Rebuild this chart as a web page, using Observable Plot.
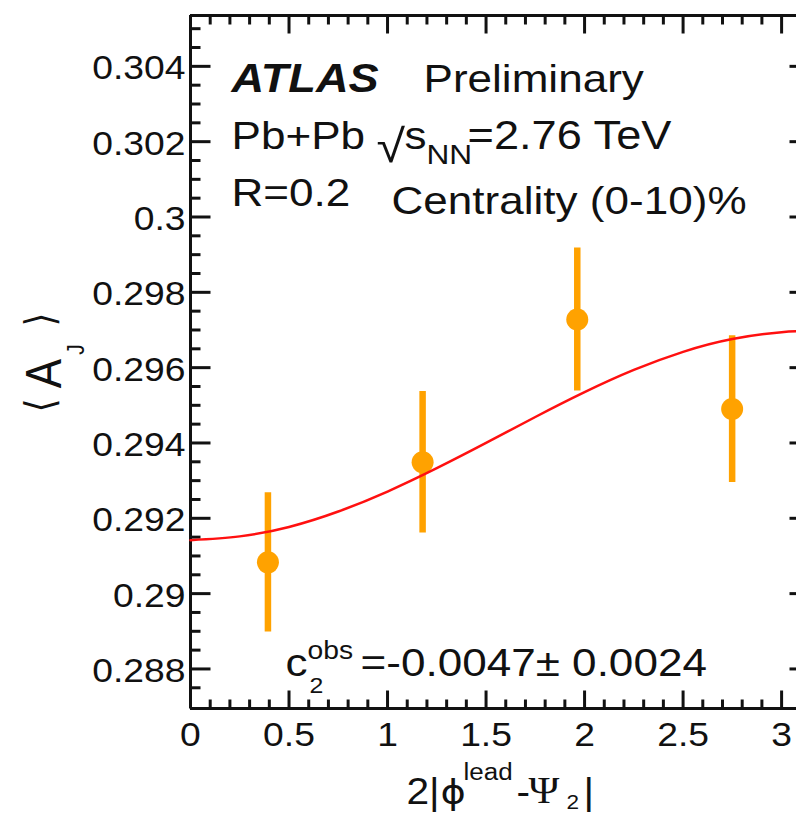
<!DOCTYPE html>
<html><head><meta charset="utf-8">
<script src="https://cdn.jsdelivr.net/npm/d3@7"></script>
<script src="https://cdn.jsdelivr.net/npm/@observablehq/plot@0.6"></script>
<style>
html,body{margin:0;padding:0;background:#fff;overflow:hidden;}
#chart svg{display:block;}
</style></head><body><div id="chart"></div>
<script>
// ---- data ----
const xCenters = [0.393, 1.178, 1.963, 2.749];
const meanAJ   = [0.29083, 0.29349, 0.29728, 0.29490];
const errAJ    = [0.00185, 0.00188, 0.00190, 0.00195];

// fit curve
const fitX = [0, 0.25, 0.5, 0.75, 1, 1.25, 1.5, 1.75, 2, 2.25, 2.5, 2.75, 3, 3.1416];
const fitY = [0.29142, 0.29152, 0.29177, 0.29218, 0.29271, 0.29333, 0.29400, 0.29469, 0.29535, 0.29594, 0.29642, 0.29676, 0.29694, 0.29697];

const xTickValues = [0, 0.5, 1, 1.5, 2, 2.5, 3];
const xTickLabels = ["0", "0.5", "1", "1.5", "2", "2.5", "3"];
const yTickValues = [0.288, 0.290, 0.292, 0.294, 0.296, 0.298, 0.300, 0.302, 0.304];
const yTickLabels = ["0.288", "0.29", "0.292", "0.294", "0.296", "0.298", "0.3", "0.302", "0.304"];

const xDomain = [0, 3.1416];
const yDomain = [0.28695, 0.30535];

const xMinor = d3.range(1, 32).filter(i => i % 5 !== 0).map(i => i / 10);
const yMinor = d3.range(575, 611).filter(k => k % 4 !== 0).map(k => k * 0.0005);

const points = xCenters.map((x, i) => ({x, y: meanAJ[i], lo: meanAJ[i] - errAJ[i], hi: meanAJ[i] + errAJ[i]}));
const fit = fitX.map((x, i) => ({x, y: fitY[i]}));

const ORANGE = "#ffa200", RED = "#ff1010", INK = "#111";
const OX = 190, OY = 15; // frame origin (pixels)
const STRETCH = 1.13;

// text pieces: [text, left x, baseline y, size, extra options]
const pieces = [
  ["ATLAS", 231, 91.5, 40, {fontWeight: "bold", fontStyle: "italic"}],
  ["Preliminary", 423, 91.5, 39, {}],
  ["Pb+Pb", 231, 148, 39, {}],
  ["\u221A", 376, 161, 46, {}],
  ["s", 404, 148, 39, {}],
  ["NN", 426, 163, 28, {}],
  ["=2.76 TeV", 467, 148, 40, {}],
  ["R=0.2", 231, 205, 39, {}],
  ["Centrality (0-10)%", 391, 213, 39, {}],
  ["c", 285, 675, 39, {}],
  ["obs", 307, 658, 25, {}],
  ["2", 309, 692, 22, {}],
  ["=-0.0047\u00B1 0.0024", 360, 675, 39, {}],
  ["2|", 406, 803, 36, {}],
  ["\u03D5", 440, 803, 34, {fontFamily: "DejaVu Sans"}],
  ["lead", 463, 779, 23, {}],
  ["-", 516, 803, 36, {}],
  ["\u03A8", 528, 802, 37, {fontFamily: "Liberation Serif"}],
  ["2", 566, 808, 20, {}],
  ["|", 583, 803, 36, {}]
];
// rotated y title pieces: [text, center x, center y, size, options]
const yTitle = [
  ["\u27E8", 40, 405, 36, {fontFamily: "DejaVu Sans"}],
  ["A", 45, 373, 44, {}],
  ["J", 76, 349, 21, {}],
  ["\u27E9", 40, 319, 36, {fontFamily: "DejaVu Sans"}]
];

const textMarks = pieces.map(([t, x, y, s, o]) => Plot.text([t], {
  frameAnchor: "top-left", dx: x - OX, dy: y - OY, textAnchor: "start", lineAnchor: "bottom",
  fontSize: s, fill: INK, ...o
}));
const titleMarks = yTitle.map(([t, x, y, s, o]) => Plot.text([t], {
  frameAnchor: "top-left", dx: x - OX, dy: y - OY, textAnchor: "middle", lineAnchor: "middle",
  rotate: -90, fontSize: s, fill: INK, ...o
}));

// plain line tick shape for vectors
const tickShape = {draw(context, l) { context.moveTo(0, 0); context.lineTo(0, -l); }};
const tick = (data, channel, frameAnchor, rotate, length) => Plot.vector(data, {
  [channel]: d => d, frameAnchor, rotate, length, anchor: "start", shape: tickShape,
  stroke: INK, strokeWidth: 3, strokeLinecap: "butt"
});

const chart = Plot.plot({
  width: 796, height: 813,
  marginLeft: 190, marginRight: -13, marginTop: 15, marginBottom: 105,
  style: {fontFamily: "Liberation Sans, Arial, sans-serif", color: INK, background: "#fff"},
  x: {domain: xDomain, axis: null},
  y: {domain: yDomain, axis: null},
  marks: [
    // inward ticks
    tick(xTickValues, "x", "bottom", 0, 18),
    tick(xMinor, "x", "bottom", 0, 9),
    tick(xTickValues, "x", "top", 180, 18),
    tick(xMinor, "x", "top", 180, 9),
    tick(yTickValues, "y", "left", 90, 20),
    tick(yMinor, "y", "left", 90, 10),
    tick(yTickValues, "y", "right", 270, 20),
    tick(yMinor, "y", "right", 270, 10),
    // tick labels
    Plot.text(xTickValues, {x: d => d, text: (d, i) => xTickLabels[i], frameAnchor: "bottom", dy: 37,
      lineAnchor: "bottom", textAnchor: "middle", fontSize: 33, fill: INK}),
    Plot.text(yTickValues, {y: d => d, text: (d, i) => yTickLabels[i], frameAnchor: "left", dx: -5, dy: 13,
      lineAnchor: "bottom", textAnchor: "end", fontSize: 33, fill: INK}),
    // frame
    Plot.ruleX(xDomain, {y1: yDomain[0], y2: yDomain[1], stroke: INK, strokeWidth: 3}),
    Plot.ruleY(yDomain, {x1: xDomain[0], x2: xDomain[1], stroke: INK, strokeWidth: 3}),
    // data
    Plot.ruleX(points, {x: "x", y1: "lo", y2: "hi", stroke: ORANGE, strokeWidth: 6.5}),
    Plot.dot(points, {x: "x", y: "y", r: 11, fill: ORANGE, stroke: "none"}),
    Plot.line(fit, {x: "x", y: "y", stroke: RED, strokeWidth: 2.5, curve: "natural"}),
    ...textMarks,
    ...titleMarks
  ]
});

// the reference's lettering is wider than the font: stretch each text horizontally about its anchor
chart.querySelectorAll("text").forEach(t => {
  let move = "";
  const xs = t.getAttribute("x"), ys = t.getAttribute("y");
  const num = v => v !== null && /^-?[\d.]+$/.test(v.trim());
  if (num(xs) || num(ys)) {
    const x = num(xs) ? +xs : 0, y = num(ys) ? +ys : 0;
    if (num(xs)) t.removeAttribute("x");
    if (num(ys)) t.removeAttribute("y");
    move = ` translate(${x},${y})`;
  }
  const tr = t.getAttribute("transform") || "";
  const rot = /rotate/.test(tr);
  t.setAttribute("transform", `${tr}${move} scale(${rot ? `1,${STRETCH}` : `${STRETCH},1`})`);
});

document.getElementById("chart").appendChild(chart);
</script></body></html>
